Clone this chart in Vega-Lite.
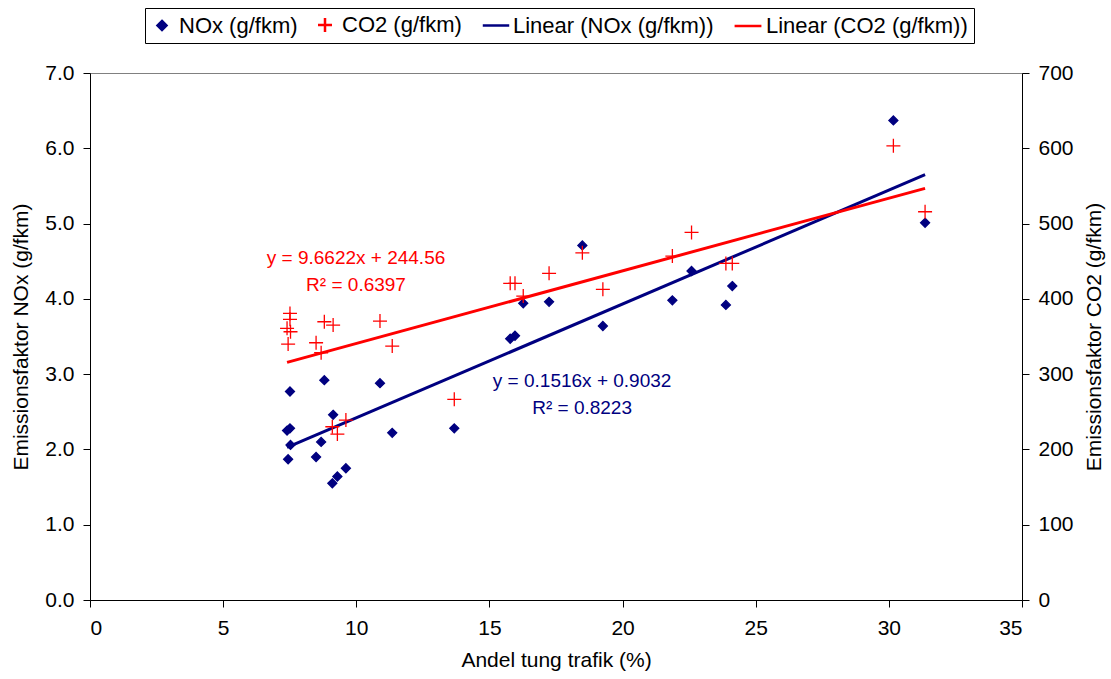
{
  "$schema": "https://vega.github.io/schema/vega-lite/v6.json",
  "width": 932,
  "height": 527,
  "autosize": "none",
  "padding": {"left": 90, "top": 73, "right": 89, "bottom": 79},
  "config": {
    "font": "Liberation Sans",
    "view": {"stroke": "#808080", "strokeWidth": 1},
    "axis": {"grid": false, "domainColor": "#000000", "tickColor": "#000000", "labelColor": "#000000", "titleColor": "#000000", "labelFontSize": 21, "titleFontSize": 21, "titleFontWeight": "normal", "tickSize": 7, "labelPadding": 9, "domainWidth": 1, "tickWidth": 1},
    "legend": {"orient": "none", "legendX": 55, "legendY": -65, "direction": "horizontal", "strokeColor": "#000000", "fillColor": "#ffffff", "padding": 6, "labelFontSize": 22, "labelLimit": 0, "labelColor": "#000000", "columnPadding": 15, "labelOffset": 6, "symbolStrokeWidth": 2.5}
  },
  "data": {"values": [
    {"x": 7.51, "nox": 2.77, "co2": 380.7},
    {"x": 7.51, "nox": 2.28, "co2": 372.8},
    {"x": 7.40, "nox": 2.25, "co2": 360.8},
    {"x": 7.53, "nox": 2.06, "co2": 356.3},
    {"x": 7.44, "nox": 1.87, "co2": 340.0},
    {"x": 8.49, "nox": 1.90, "co2": 341.7},
    {"x": 8.68, "nox": 2.10, "co2": 328.4},
    {"x": 8.80, "nox": 2.92, "co2": 369.6},
    {"x": 9.13, "nox": 2.46, "co2": 365.2},
    {"x": 9.10, "nox": 1.55, "co2": 230.1},
    {"x": 9.29, "nox": 1.64, "co2": 220.4},
    {"x": 9.61, "nox": 1.75, "co2": 239.0},
    {"x": 10.89, "nox": 2.88, "co2": 370.5},
    {"x": 11.35, "nox": 2.22, "co2": 337.3},
    {"x": 13.68, "nox": 2.28, "co2": 266.5},
    {"x": 15.78, "nox": 3.47, "co2": 420.6},
    {"x": 15.96, "nox": 3.51, "co2": 420.6},
    {"x": 16.27, "nox": 3.94, "co2": 403.7},
    {"x": 17.24, "nox": 3.96, "co2": 433.9},
    {"x": 18.49, "nox": 4.71, "co2": 461.2},
    {"x": 19.26, "nox": 3.64, "co2": 412.6},
    {"x": 21.87, "nox": 3.98, "co2": 456.8},
    {"x": 22.59, "nox": 4.37, "co2": 488.3},
    {"x": 23.88, "nox": 3.92, "co2": 447.1},
    {"x": 24.12, "nox": 4.17, "co2": 447.1},
    {"x": 30.17, "nox": 6.37, "co2": 603.3},
    {"x": 31.36, "nox": 5.01, "co2": 515.7}
  ]},
  "encoding": {
    "x": {"field": "x", "type": "quantitative", "scale": {"domain": [0, 35], "nice": false, "zero": false},
      "axis": {"values": [0, 5, 10, 15, 20, 25, 30, 35], "format": "d", "title": "Andel tung trafik (%)", "labelPadding": 10, "titlePadding": 11}}
  },
  "layer": [
    {
      "encoding": {
        "y": {"field": "nox", "type": "quantitative", "scale": {"domain": [0, 7], "nice": false, "zero": true},
          "axis": {"orient": "left", "values": [0, 1, 2, 3, 4, 5, 6, 7], "format": ".1f", "title": "Emissionsfaktor NOx (g/fkm)", "titlePadding": 13}}
      },
      "layer": [
        {
          "mark": {"type": "point", "opacity": 1, "strokeWidth": 1.3},
          "encoding": {
            "fill": {"datum": "NOx (g/fkm)", "type": "nominal", "title": null, "scale": {"domain": ["NOx (g/fkm)", "CO2 (g/fkm)", "Linear (NOx (g/fkm))", "Linear (CO2 (g/fkm))"], "range": ["#000080", "#ff0000", "#000080", "#ff0000"]}},
            "stroke": {"datum": "NOx (g/fkm)", "type": "nominal", "title": null, "scale": {"domain": ["NOx (g/fkm)", "CO2 (g/fkm)", "Linear (NOx (g/fkm))", "Linear (CO2 (g/fkm))"], "range": ["#000080", "#ff0000", "#000080", "#ff0000"]}},
            "shape": {"datum": "NOx (g/fkm)", "type": "nominal", "title": null, "scale": {"domain": ["NOx (g/fkm)", "CO2 (g/fkm)", "Linear (NOx (g/fkm))", "Linear (CO2 (g/fkm))"], "range": ["M0,-1L1,0L0,1L-1,0Z", "M-1,0H1M0,-1V1", "M-1.5,0H1.5", "M-1.3,0H1.3"]}},
            "size": {"datum": "NOx (g/fkm)", "type": "nominal", "title": null, "scale": {"type": "point", "padding": 0, "domain": ["NOx (g/fkm)", "CO2 (g/fkm)", "Linear (NOx (g/fkm))", "Linear (CO2 (g/fkm))"], "range": [81, 426]}}
          }
        },
        {
          "transform": [{"regression": "nox", "on": "x"}],
          "mark": {"type": "line", "color": "#000080", "strokeWidth": 3},
          "encoding": {}
        },
        {
          "data": {"values": [
            {"x": 18.48, "nox": 2.91, "label": "y = 0.1516x + 0.9032"},
            {"x": 18.48, "nox": 2.55, "label": "R² = 0.8223"}
          ]},
          "mark": {"type": "text", "color": "#000080", "fontSize": 19, "align": "center", "baseline": "middle"},
          "encoding": {"text": {"field": "label", "type": "nominal"}}
        }
      ]
    },
    {
      "encoding": {
        "y": {"field": "co2", "type": "quantitative", "scale": {"domain": [0, 700], "nice": false, "zero": true},
          "axis": {"orient": "right", "values": [0, 100, 200, 300, 400, 500, 600, 700], "format": "d", "title": "Emissionsfaktor CO2 (g/fkm)", "titleAngle": 270, "titleBaseline": "top", "titlePadding": 10}}
      },
      "layer": [
        {
          "mark": {"type": "point", "opacity": 1, "strokeWidth": 1.3},
          "encoding": {
            "fill": {"datum": "CO2 (g/fkm)", "type": "nominal", "title": null, "scale": {"domain": ["NOx (g/fkm)", "CO2 (g/fkm)", "Linear (NOx (g/fkm))", "Linear (CO2 (g/fkm))"], "range": ["#000080", "#ff0000", "#000080", "#ff0000"]}},
            "stroke": {"datum": "CO2 (g/fkm)", "type": "nominal", "title": null, "scale": {"domain": ["NOx (g/fkm)", "CO2 (g/fkm)", "Linear (NOx (g/fkm))", "Linear (CO2 (g/fkm))"], "range": ["#000080", "#ff0000", "#000080", "#ff0000"]}},
            "shape": {"datum": "CO2 (g/fkm)", "type": "nominal", "title": null, "scale": {"domain": ["NOx (g/fkm)", "CO2 (g/fkm)", "Linear (NOx (g/fkm))", "Linear (CO2 (g/fkm))"], "range": ["M0,-1L1,0L0,1L-1,0Z", "M-1,0H1M0,-1V1", "M-1.5,0H1.5", "M-1.3,0H1.3"]}},
            "size": {"datum": "CO2 (g/fkm)", "type": "nominal", "title": null, "scale": {"type": "point", "padding": 0, "domain": ["NOx (g/fkm)", "CO2 (g/fkm)", "Linear (NOx (g/fkm))", "Linear (CO2 (g/fkm))"], "range": [81, 426]}}
          }
        },
        {
          "transform": [{"regression": "co2", "on": "x"}],
          "mark": {"type": "line", "color": "#ff0000", "strokeWidth": 3},
          "encoding": {}
        },
        {
          "data": {"values": [
            {"x": 9.99, "co2": 454.2, "label": "y = 9.6622x + 244.56"},
            {"x": 9.99, "co2": 418.3, "label": "R² = 0.6397"}
          ]},
          "mark": {"type": "text", "color": "#ff0000", "fontSize": 19, "align": "center", "baseline": "middle"},
          "encoding": {"text": {"field": "label", "type": "nominal"}}
        }
      ]
    }
  ],
  "resolve": {"scale": {"y": "independent"}}
}
